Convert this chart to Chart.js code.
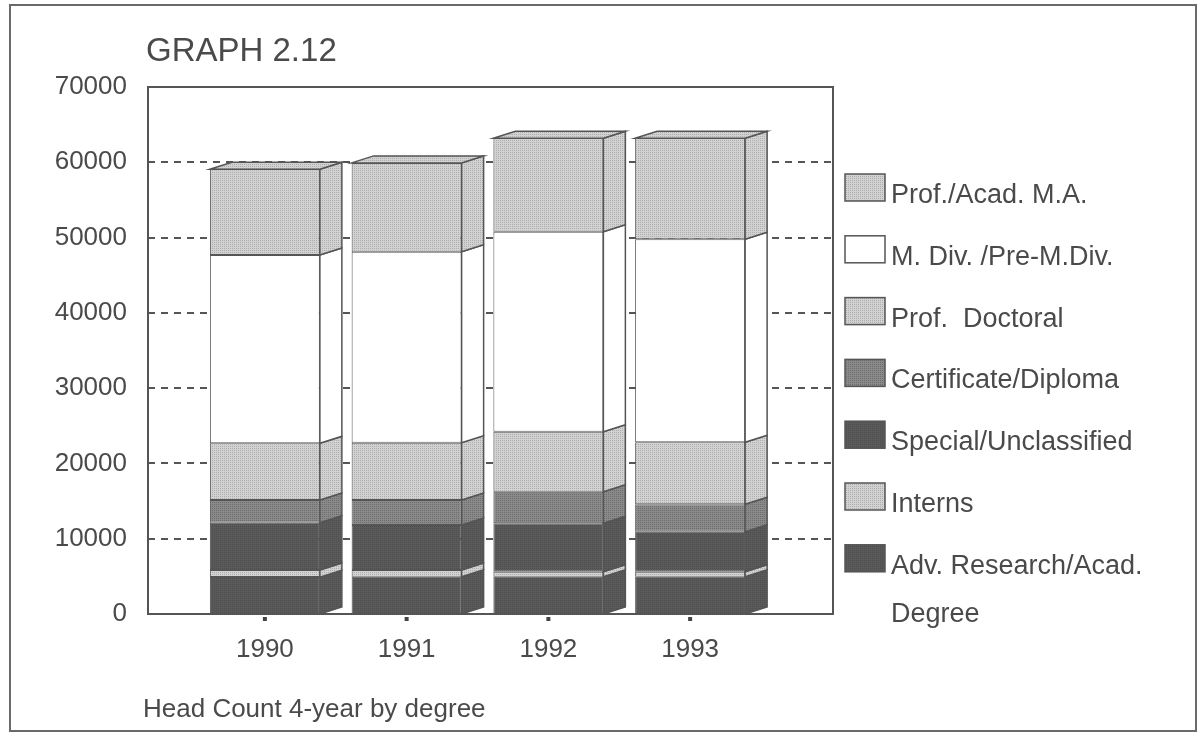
<!DOCTYPE html>
<html lang="en">
<head>
<meta charset="UTF-8">
<title>Graph 2.12</title>
<script src="https://cdn.jsdelivr.net/npm/chart.js@4.4.1/dist/chart.umd.min.js"></script>
<style>
  body { margin: 0; background: #fff; }
  canvas { display: block; }
</style>
</head>
<body>
<canvas id="myChart" width="1204" height="733"></canvas>
<script>
// data, stack order bottom -> top
const years = ['1990', '1991', '1992', '1993'];
const yTicks = [0, 10000, 20000, 30000, 40000, 50000, 60000, 70000];

const advResearch  = [4900, 4950, 4950, 4950];
const interns      = [950, 890, 670, 670];
const special      = [6280, 5980, 6430, 5310];
const certificate  = [3010, 3320, 4190, 3640];
const profDoctoral = [7530, 7620, 7970, 8240];
const mDiv         = [25020, 25360, 26570, 26960];
const profMA       = [11380, 11800, 12410, 13420];

const canvas = document.getElementById('myChart');
const ctx0 = canvas.getContext('2d');

// dotted screen look of the scanned fills
function stipple(base, dot) {
    const c = document.createElement('canvas');
    c.width = 2; c.height = 2;
    const g = c.getContext('2d');
    g.fillStyle = base; g.fillRect(0, 0, 2, 2);
    g.fillStyle = dot;
    g.fillRect(0, 0, 1, 1);
    return ctx0.createPattern(c, 'repeat');
}

const lightFill = stipple('#d2d2d2', '#adadad');
const midFill = stipple('#8a8a8a', '#6c6c6c');
const darkFill = stipple('#5a5a5a', '#4e4e4e');

const EDGE = '#555';
const TEXT = '#4a4a4a';
const FONT = '"Liberation Sans", Arial, sans-serif';
const DX = 22, DY = -7;          // depth of the 3d bars
const PLOT_L = 148, PLOT_R = 833; // drawn frame of the plot

const bars3d = {
    id: 'bars3d',
    beforeDatasetsDraw(chart) {
        const { ctx, scales: { y } } = chart;
        ctx.save();
        ctx.strokeStyle = EDGE;
        ctx.lineWidth = 2;
        ctx.setLineDash([7, 6]);
        yTicks.slice(1, -1).forEach(v => {
            const py = Math.round(y.getPixelForValue(v));
            ctx.beginPath();
            ctx.moveTo(PLOT_L, py);
            ctx.lineTo(PLOT_R, py);
            ctx.stroke();
        });
        ctx.restore();
    },
    afterDatasetsDraw(chart) {
        const ctx = chart.ctx;
        const n = chart.data.datasets.length;
        chart.data.datasets.forEach((ds, i) => {
            chart.getDatasetMeta(i).data.forEach(el => {
                const { x, y, base, width } = el.getProps(['x', 'y', 'base', 'width'], true);
                const l = x - width / 2, r = x + width / 2;
                const top = Math.min(y, base), bot = Math.max(y, base);
                ctx.save();
                ctx.fillStyle = ds.backgroundColor;
                ctx.strokeStyle = EDGE;
                ctx.lineWidth = 1.5;
                // side face
                ctx.beginPath();
                ctx.moveTo(r, top);
                ctx.lineTo(r + DX, top + DY);
                ctx.lineTo(r + DX, bot + DY);
                ctx.lineTo(r, bot);
                ctx.closePath();
                ctx.fill();
                ctx.stroke();
                // top face on the last segment
                if (i === n - 1) {
                    ctx.beginPath();
                    ctx.moveTo(l, top);
                    ctx.lineTo(l + DX, top + DY);
                    ctx.lineTo(r + DX, top + DY);
                    ctx.lineTo(r, top);
                    ctx.closePath();
                    ctx.fill();
                    ctx.stroke();
                }
                ctx.restore();
            });
        });
    },
    afterDraw(chart) {
        const { ctx, chartArea, scales: { x } } = chart;
        ctx.save();
        // outer border
        ctx.strokeStyle = '#6a6a6a';
        ctx.lineWidth = 2;
        ctx.strokeRect(10, 5, 1186, 726);
        // plot frame
        ctx.strokeStyle = EDGE;
        ctx.strokeRect(PLOT_L, chartArea.top, PLOT_R - PLOT_L, chartArea.bottom - chartArea.top);
        // tick dots under the categories
        ctx.fillStyle = '#444';
        years.forEach((yr, i) => {
            const px = x.getPixelForValue(i);
            ctx.fillRect(px - 2, chartArea.bottom + 3, 4, 4);
        });
        // title + footnote
        ctx.fillStyle = TEXT;
        ctx.textBaseline = 'alphabetic';
        ctx.font = '33px ' + FONT;
        ctx.fillText('GRAPH 2.12', 146, 61);
        ctx.font = '26px ' + FONT;
        ctx.fillText('Head Count 4-year by degree', 143, 717);
        // legend, top of stack first
        ctx.font = '27px ' + FONT;
        const dsets = chart.data.datasets;
        for (let k = 0; k < dsets.length; k++) {
            const ds = dsets[dsets.length - 1 - k];
            const by = 174 + k * 61.8;
            ctx.fillStyle = ds.backgroundColor;
            ctx.fillRect(845, by, 40, 27);
            ctx.lineWidth = 1.5;
            ctx.strokeStyle = EDGE;
            ctx.strokeRect(845, by, 40, 27);
            ctx.fillStyle = TEXT;
            [].concat(ds.label).forEach((t, li) => {
                ctx.fillText(t, 891, by + 29 + li * 48);
            });
        }
        ctx.restore();
    }
};

function series(label, data, fill) {
    return {
        label: label,
        data: data,
        backgroundColor: fill,
        borderColor: EDGE,
        borderWidth: 1,
        borderSkipped: false,
        categoryPercentage: 1,
        barPercentage: 0.776
    };
}

new Chart(canvas, {
    type: 'bar',
    data: {
        labels: years,
        datasets: [
            series(['Adv. Research/Acad.', 'Degree'], advResearch, darkFill),
            series('Interns', interns, lightFill),
            series('Special/Unclassified', special, darkFill),
            series('Certificate/Diploma', certificate, midFill),
            series('Prof.  Doctoral', profDoctoral, lightFill),
            series('M. Div. /Pre-M.Div.', mDiv, '#ffffff'),
            series('Prof./Acad. M.A.', profMA, lightFill)
        ]
    },
    options: {
        responsive: false,
        animation: false,
        layout: { padding: { left: 0, top: 87, right: 443, bottom: 0 } },
        plugins: {
            legend: { display: false },
            tooltip: { enabled: false }
        },
        scales: {
            x: {
                stacked: true,
                grid: { display: false },
                border: { display: false },
                ticks: { color: TEXT, font: { size: 26, family: FONT }, padding: 12 },
                afterFit: s => { s.height = 119; }
            },
            y: {
                stacked: true,
                min: 0,
                max: 70000,
                grid: { display: false },
                border: { display: false },
                afterBuildTicks: s => { s.ticks = yTicks.map(v => ({ value: v })); },
                ticks: {
                    color: TEXT,
                    font: { size: 26, family: FONT },
                    padding: 59,
                    callback: v => String(v)
                },
                afterFit: s => { s.width = 194; }
            }
        }
    },
    plugins: [bars3d]
});
</script>
</body>
</html>
